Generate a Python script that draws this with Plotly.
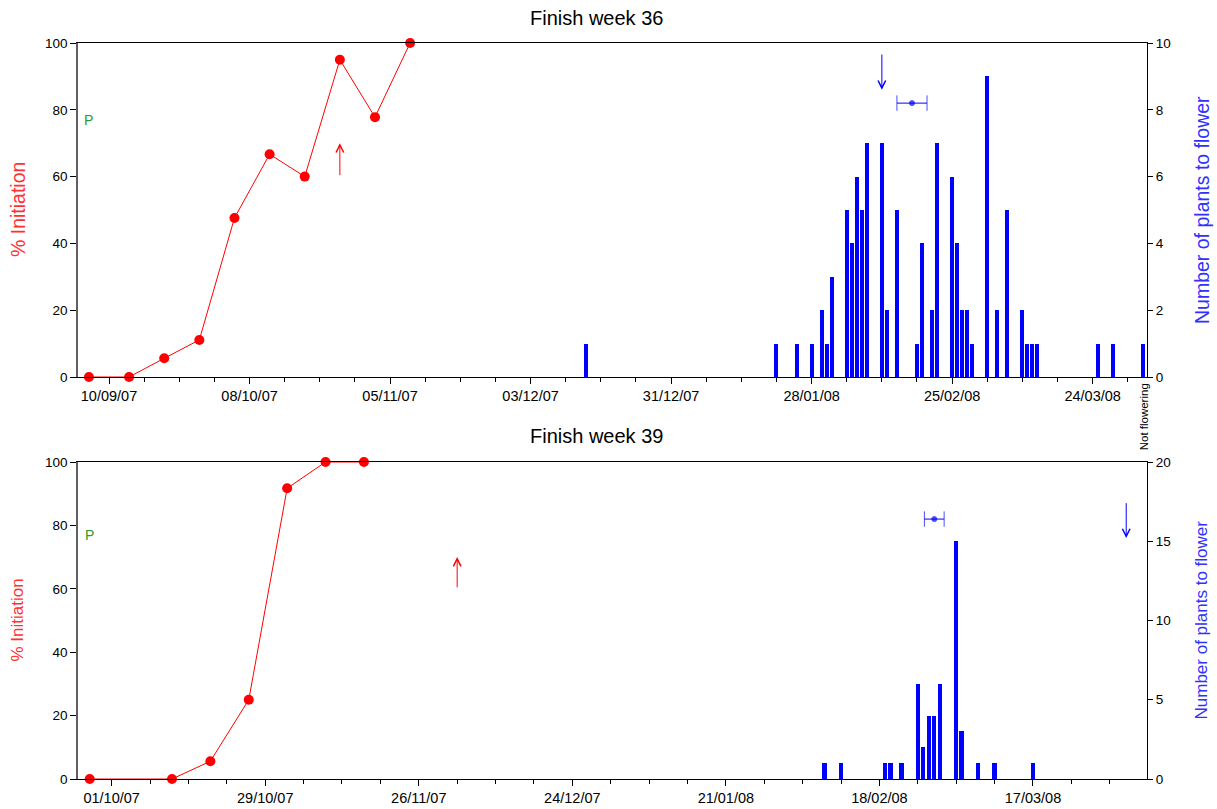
import pandas as pd
import plotly.graph_objects as go

DAY_MS = 86400000
FONT = "Liberation Sans, Arial, sans-serif"
RED = "#ff0000"
BLUE = "#0000ff"
GREEN = "#2a9a2a"

# ---------------- Finish week 36 ----------------
init_dates_36 = ["2007-09-06", "2007-09-14", "2007-09-21", "2007-09-28", "2007-10-05",
                 "2007-10-12", "2007-10-19", "2007-10-26", "2007-11-02", "2007-11-09"]
init_pct_36 = [0, 0, 5.6, 11.1, 47.6, 66.7, 60, 95, 77.8, 100]

flower_dates_36 = ["2007-12-14", "2008-01-21", "2008-01-25", "2008-01-28", "2008-01-30",
                   "2008-01-31", "2008-02-01", "2008-02-04", "2008-02-05", "2008-02-06",
                   "2008-02-07", "2008-02-08", "2008-02-11", "2008-02-12", "2008-02-14",
                   "2008-02-18", "2008-02-19", "2008-02-21", "2008-02-22", "2008-02-25",
                   "2008-02-26", "2008-02-27", "2008-02-28", "2008-02-29", "2008-03-03",
                   "2008-03-05", "2008-03-07", "2008-03-10", "2008-03-11", "2008-03-12",
                   "2008-03-13", "2008-03-25", "2008-03-28"]
flower_counts_36 = [1, 1, 1, 1, 2, 1, 3, 5, 4, 6, 5, 7, 7, 2, 5, 1, 4, 2, 7, 6,
                    4, 2, 2, 1, 9, 2, 5, 2, 1, 1, 1, 1, 1]
not_flowering_36 = 1
not_flowering_slot_36 = "2008-04-03"

mean_flower_36 = "2008-02-17"
spread_days_36 = 3.0
mean_level_36 = 8.2

init_arrow_36 = ("2007-10-26", 60, 70)        # date, tail, head (% initiation)
flower_arrow_36 = ("2008-02-11", 9.7, 8.6)    # date, tail, head (plants)

x_range_36 = ["2007-09-03 19:40", "2008-04-03 20:00"]
x_tick0_36 = "2007-09-10"

# ---------------- Finish week 39 ----------------
init_dates_39 = ["2007-09-27", "2007-10-12", "2007-10-19", "2007-10-26", "2007-11-02",
                 "2007-11-09", "2007-11-16"]
init_pct_39 = [0, 0, 5.6, 25, 91.7, 100, 100]

flower_dates_39 = ["2008-02-08", "2008-02-11", "2008-02-19", "2008-02-20", "2008-02-22",
                   "2008-02-25", "2008-02-26", "2008-02-27", "2008-02-28", "2008-02-29",
                   "2008-03-03", "2008-03-04", "2008-03-07", "2008-03-10", "2008-03-17"]
flower_counts_39 = [1, 1, 1, 1, 1, 6, 2, 4, 4, 6, 15, 3, 1, 1, 1]

mean_flower_39 = "2008-02-28"
spread_days_39 = 1.8
mean_level_39 = 16.4

init_arrow_39 = ("2007-12-03", 60, 70)
flower_arrow_39 = ("2008-04-03", 17.5, 15.2)

x_range_39 = ["2007-09-24 20:40", "2008-04-06 19:00"]
x_tick0_39 = "2007-10-01"

planting_label_y = 77

fig = go.Figure()


def add_panel(xa, ya_left, ya_right, dates, pct, fdates, fcounts, mean_date, spread, level):
    fig.add_trace(go.Bar(
        x=fdates, y=fcounts, width=0.8 * DAY_MS,
        marker=dict(color=BLUE, line=dict(width=0)),
        xaxis=xa, yaxis=ya_right, showlegend=False,
    ))
    centre = pd.Timestamp(mean_date)
    half = pd.Timedelta(days=spread)
    fig.add_trace(go.Scatter(
        x=[centre - half, centre, centre + half], y=[level, level, level],
        mode="lines+markers",
        line=dict(color=BLUE, width=1),
        marker=dict(symbol=["line-ns-open", "circle", "line-ns-open"],
                    size=[11, 5, 11], color=BLUE, line=dict(color=BLUE, width=1)),
        xaxis=xa, yaxis=ya_right, showlegend=False, cliponaxis=False,
    ))
    fig.add_trace(go.Scatter(
        x=dates, y=pct, mode="lines+markers",
        line=dict(color=RED, width=1),
        marker=dict(color=RED, size=10),
        xaxis=xa, yaxis=ya_left, showlegend=False, cliponaxis=False,
    ))


add_panel("x", "y", "y2", init_dates_36, init_pct_36, flower_dates_36, flower_counts_36,
          mean_flower_36, spread_days_36, mean_level_36)
fig.add_trace(go.Bar(
    x=[not_flowering_slot_36], y=[not_flowering_36], width=0.8 * DAY_MS,
    marker=dict(color=BLUE, line=dict(width=0)),
    xaxis="x", yaxis="y2", showlegend=False,
))
add_panel("x2", "y3", "y4", init_dates_39, init_pct_39, flower_dates_39, flower_counts_39,
          mean_flower_39, spread_days_39, mean_level_39)

x_tick_font = dict(family=FONT, size=14.5, color="black")
y_tick_font = dict(family=FONT, size=13.5, color="black")


def x_axis(anchor, rng, tick0):
    return dict(
        anchor=anchor, domain=[0, 1], type="date", range=rng, automargin=False,
        tick0=tick0, dtick=28 * DAY_MS, tickformat="%d/%m/%y",
        ticks="outside", ticklen=6, tickcolor="black", tickwidth=1,
        showline=True, linecolor="black", linewidth=1, mirror=True,
        showgrid=False, zeroline=False, tickfont=x_tick_font,
        minor=dict(ticks="outside", ticklen=4, tickcolor="black", tickwidth=1,
                   tick0=tick0, dtick=7 * DAY_MS, showgrid=False),
    )


def left_axis(anchor, domain):
    return dict(
        anchor=anchor, domain=domain, range=[0, 100], dtick=20, automargin=False,
        ticks="outside", ticklen=6, tickcolor="black",
        showline=True, linecolor="#606060", linewidth=1.5,
        showgrid=False, zeroline=False, tickfont=y_tick_font,
    )


def right_axis(anchor, overlay, rng, step):
    return dict(
        anchor=anchor, overlaying=overlay, side="right", range=rng, dtick=step,
        automargin=False,
        ticks="outside", ticklen=5, tickcolor="black",
        showline=True, linecolor="black", linewidth=1,
        showgrid=False, zeroline=False, tickfont=y_tick_font,
    )


top_dom = [0.5462, 1.0]
bot_dom = [0.0, 0.4307]


def label(text, **kw):
    base = dict(text=text, showarrow=False, xanchor="center", yanchor="middle")
    base.update(kw)
    return base


annotations = [
    label("Finish week 36", x=0.4846, y=1.034, xref="paper", yref="paper",
          font=dict(family=FONT, size=20, color="black")),
    label("Finish week 39", x=0.4846, y=0.466, xref="paper", yref="paper",
          font=dict(family=FONT, size=20, color="black")),
    label("% Initiation", x=0, y=0.5, xref="paper", yref="y domain",
          xshift=-60, textangle=-90, font=dict(family=FONT, size=19.5, color="#ff3030")),
    label("Number of plants to flower", x=1, y=0.5, xref="paper", yref="y domain",
          xshift=55, textangle=-90, font=dict(family=FONT, size=19.5, color="#3030ff")),
    label("% Initiation", x=0, y=0.5, xref="paper", yref="y3 domain",
          xshift=-60, textangle=-90, font=dict(family=FONT, size=17, color="#ff3030")),
    label("Number of plants to flower", x=1, y=0.5, xref="paper", yref="y3 domain",
          xshift=55, textangle=-90, font=dict(family=FONT, size=17, color="#3030ff")),
    label("P", x=init_dates_36[0], y=planting_label_y, xref="x", yref="y",
          font=dict(family=FONT, size=14, color=GREEN)),
    label("P", x=init_dates_39[0], y=planting_label_y, xref="x2", yref="y3",
          font=dict(family=FONT, size=14, color=GREEN)),
    label("Not flowering", x=not_flowering_slot_36, y=0, xref="x", yref="y domain",
          xshift=2, yshift=-4, yanchor="top", textangle=-90,
          font=dict(family=FONT, size=11.5, color="black")),
]


def arrow(spec, xref, yref, color):
    date, tail, head = spec
    return dict(x=date, y=head, ax=date, ay=tail, xref=xref, yref=yref,
                axref=xref, ayref=yref, text="", showarrow=True,
                arrowhead=5, arrowsize=1.5, arrowwidth=1, arrowcolor=color, standoff=0)


annotations += [
    arrow(init_arrow_36, "x", "y", RED),
    arrow(flower_arrow_36, "x", "y2", BLUE),
    arrow(init_arrow_39, "x2", "y3", RED),
    arrow(flower_arrow_39, "x2", "y4", BLUE),
]

fig.update_layout(
    width=1217, height=809,
    margin=dict(l=78, r=70, t=43, b=30, autoexpand=False),
    paper_bgcolor="white", plot_bgcolor="white",
    barmode="overlay", bargap=0,
    font=dict(family=FONT, color="black"),
    xaxis=x_axis("y", x_range_36, x_tick0_36),
    yaxis=left_axis("x", top_dom),
    yaxis2=right_axis("x", "y", [0, 10], 2),
    xaxis2=x_axis("y3", x_range_39, x_tick0_39),
    yaxis3=left_axis("x2", bot_dom),
    yaxis4=right_axis("x2", "y3", [0, 20], 5),
    annotations=annotations,
    showlegend=False,
)

fig.write_html("out.html")
